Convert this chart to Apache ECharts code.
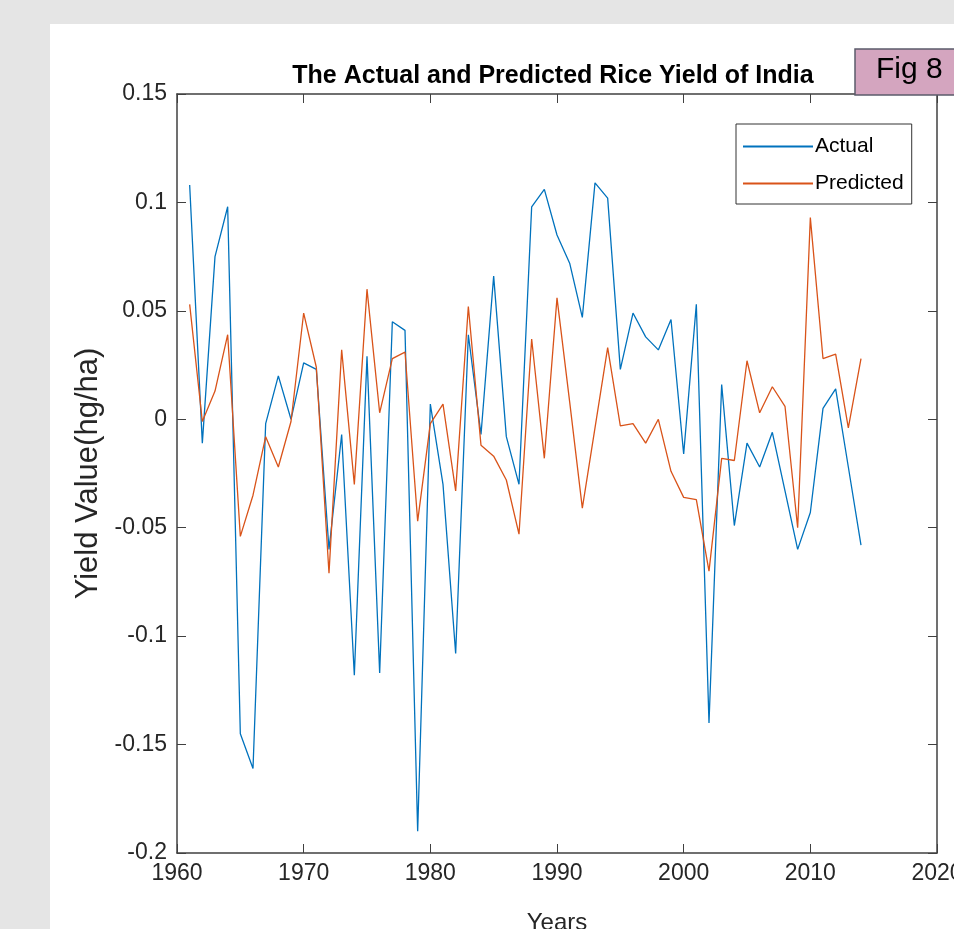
<!DOCTYPE html>
<html>
<head>
<meta charset="utf-8">
<script src="https://cdn.jsdelivr.net/npm/echarts@6/dist/echarts.min.js"></script>
<style>
  html, body { margin: 0; padding: 0; background: #e5e5e5; }
  #chart { width: 954px; height: 929px; }
</style>
</head>
<body>
<div id="chart"></div>
<script>
// years of the series
const years = [1961, 1962, 1963, 1964, 1965, 1966, 1967, 1968, 1969, 1970,
  1971, 1972, 1973, 1974, 1975, 1976, 1977, 1978, 1979, 1980,
  1981, 1982, 1983, 1984, 1985, 1986, 1987, 1988, 1989, 1990,
  1991, 1992, 1993, 1994, 1995, 1996, 1997, 1998, 1999, 2000,
  2001, 2002, 2003, 2004, 2005, 2006, 2007, 2008, 2009, 2010,
  2011, 2012, 2013, 2014];

const actual = [0.108, -0.011, 0.075, 0.098, -0.145, -0.161, -0.002, 0.020, 0.000, 0.026,
  0.023, -0.060, -0.007, -0.118, 0.029, -0.117, 0.045, 0.041, -0.190, 0.007,
  -0.030, -0.108, 0.039, -0.007, 0.066, -0.008, -0.030, 0.098, 0.106, 0.085,
  0.072, 0.047, 0.109, 0.102, 0.023, 0.049, 0.038, 0.032, 0.046, -0.016,
  0.053, -0.140, 0.016, -0.049, -0.011, -0.022, -0.006, -0.033, -0.060, -0.043,
  0.005, 0.014, -0.022, -0.058];

const predicted = [0.053, -0.001, 0.013, 0.039, -0.054, -0.035, -0.008, -0.022, -0.001, 0.049,
  0.024, -0.071, 0.032, -0.030, 0.060, 0.003, 0.028, 0.031, -0.047, -0.002,
  0.007, -0.033, 0.052, -0.012, -0.017, -0.028, -0.053, 0.037, -0.018, 0.056,
  0.008, -0.041, -0.004, 0.033, -0.003, -0.002, -0.011, 0.000, -0.024, -0.036,
  -0.037, -0.070, -0.018, -0.019, 0.027, 0.003, 0.015, 0.006, -0.050, 0.093,
  0.028, 0.030, -0.004, 0.028];

const seriesNames = ['Actual', 'Predicted'];

const font = '"Liberation Sans", Arial, sans-serif';
const axisColor = '#404040';
const labelColor = '#262626';

function pairs(vals) {
    return years.map((y, i) => [y, vals[i]]);
}

const myChart = echarts.init(document.getElementById('chart'));

// plain numbers, no thousands separator
const tickFmt = v => String(+v.toFixed(2));

// shared look of the box axes (inward ticks, no zero crossing)
function boxAxis(extra) {
    return Object.assign({
        type: 'value',
        axisLine: { show: true, onZero: false, lineStyle: { color: axisColor, width: 1.5 } },
        axisTick: { show: true, inside: true, length: 9, lineStyle: { color: axisColor, width: 1 } },
        splitLine: { show: false }
    }, extra);
}

const option = {
    animation: false,
    backgroundColor: '#e5e5e5',
    title: {
        text: 'The Actual and Predicted Rice Yield of India',
        left: 548,
        top: 59,
        textAlign: 'center',
        textStyle: { fontFamily: font, fontSize: 25, fontWeight: 'bold', color: '#000' }
    },
    graphic: [
        // white figure panel
        { type: 'rect', z: -10, shape: { x: 50, y: 24, width: 904, height: 905 }, style: { fill: '#fff' } },
        // "Fig 8" tag
        { type: 'rect', z: 100, shape: { x: 855, y: 49, width: 110, height: 46 },
          style: { fill: '#d4a5bf', stroke: '#5b5b6b', lineWidth: 1.5 } },
        { type: 'text', z: 101, left: 876, top: 55,
          style: { text: 'Fig 8', font: '30px "Liberation Sans", Arial, sans-serif', fill: '#000' } }
    ],
    legend: {
        data: seriesNames,
        orient: 'vertical',
        left: 736,
        top: 124,
        padding: [12, 8, 10, 7],
        itemGap: 16,
        itemWidth: 70,
        itemHeight: 2,
        icon: 'rect',
        backgroundColor: '#fff',
        borderColor: '#333',
        borderWidth: 1,
        textStyle: { fontFamily: font, fontSize: 21, color: '#000', padding: [0, 0, 0, -3] }
    },
    grid: { left: 177, right: 17, top: 94, bottom: 76, containLabel: false, outerBoundsMode: 'none' },
    xAxis: [boxAxis({
        min: 1960, max: 2020, interval: 10,
        name: 'Years',
        nameLocation: 'middle',
        nameGap: 58,
        nameTextStyle: { fontFamily: font, fontSize: 24, color: labelColor },
        axisLabel: { fontFamily: font, fontSize: 23, color: labelColor, margin: 9, formatter: v => String(v) }
    }), boxAxis({
        position: 'top',
        min: 1960, max: 2020, interval: 10,
        axisLabel: { show: false }
    })],
    yAxis: [boxAxis({
        min: -0.2, max: 0.15, interval: 0.05,
        name: 'Yield Value(hg/ha)',
        nameLocation: 'middle',
        nameGap: 65,
        nameTextStyle: { fontFamily: font, fontSize: 31, color: labelColor },
        axisLabel: { fontFamily: font, fontSize: 23, color: labelColor, margin: 10, formatter: tickFmt }
    }), boxAxis({
        position: 'right',
        min: -0.2, max: 0.15, interval: 0.05,
        axisLabel: { show: false }
    })],
    series: [{
        name: seriesNames[0],
        type: 'line',
        data: pairs(actual),
        symbol: 'none',
        color: '#0072bd',
        lineStyle: { width: 1.3 }
    }, {
        name: seriesNames[1],
        type: 'line',
        data: pairs(predicted),
        symbol: 'none',
        color: '#d95319',
        lineStyle: { width: 1.3 }
    }]
};

myChart.setOption(option);
</script>
</body>
</html>
